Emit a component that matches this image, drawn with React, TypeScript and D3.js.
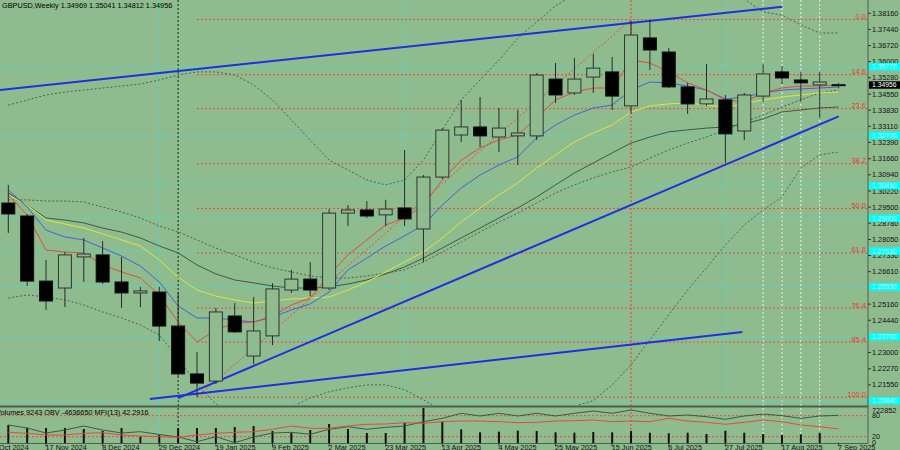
import React from 'react';
import * as d3 from 'd3';

// ---------- data ----------
const openP = [1.2968,1.2910,1.2619,1.2588,1.2727,1.2736,1.2615,1.2566,1.2570,1.2418,1.2204,1.2172,1.2463,1.2284,1.2374,1.2579,1.2628,1.2588,1.2923,1.2937,1.2915,1.2946,1.2852,1.3084,1.3272,1.3308,1.3263,1.3268,1.3268,1.3522,1.3460,1.3531,1.3554,1.3402,1.3706,1.3643,1.3487,1.3411,1.3429,1.3290,1.3446,1.3554,1.3518,1.3496,1.34969];
const highP = [1.3049,1.2919,1.2713,1.2749,1.2812,1.2798,1.2727,1.2593,1.2593,1.2570,1.2302,1.2499,1.2521,1.2548,1.2610,1.2669,1.2704,1.2941,1.2959,1.2977,1.2982,1.3205,1.3093,1.3303,1.3428,1.3442,1.3393,1.3384,1.3549,1.3594,1.3616,1.3634,1.3621,1.3782,1.3788,1.3661,1.3505,1.3589,1.3451,1.3460,1.3589,1.3580,1.3554,1.3554,1.35041];
const lowP = [1.2834,1.2597,1.2490,1.2503,1.2615,1.2606,1.2499,1.2503,1.2351,1.2195,1.2101,1.2159,1.2387,1.2248,1.2333,1.2566,1.2552,1.2579,1.2865,1.2901,1.2865,1.2865,1.2704,1.3075,1.3241,1.3218,1.3196,1.3138,1.3250,1.3415,1.3451,1.3460,1.3384,1.3366,1.3563,1.3482,1.3366,1.3402,1.3147,1.3250,1.3420,1.3500,1.3420,1.3348,1.34812];
const closeP = [1.2919,1.2619,1.2530,1.2736,1.2740,1.2615,1.2566,1.2575,1.2418,1.2204,1.2163,1.2481,1.2392,1.2396,1.2584,1.2628,1.2579,1.2923,1.2937,1.2910,1.2941,1.2897,1.3084,1.3294,1.3308,1.3268,1.3303,1.3281,1.3540,1.3451,1.3522,1.3571,1.3446,1.3719,1.3652,1.3487,1.3411,1.3433,1.3277,1.3451,1.3545,1.3527,1.3505,1.3509,1.34956];

const maRed = [1.3005,1.2914,1.2758,1.2749,1.2745,1.2691,1.2660,1.2633,1.2557,1.2436,1.2347,1.2400,1.2432,1.2436,1.2463,1.2512,1.2543,1.2646,1.2736,1.2803,1.2870,1.2901,1.2959,1.3071,1.3160,1.3214,1.3250,1.3272,1.3348,1.3429,1.3464,1.3482,1.3482,1.3607,1.3594,1.3554,1.3505,1.3473,1.3429,1.3420,1.3460,1.3482,1.3491,1.3491,1.3496];
const maBlue = [1.3026,1.2950,1.2847,1.2816,1.2803,1.2767,1.2731,1.2686,1.2615,1.2508,1.2454,1.2454,1.2445,1.2436,1.2458,1.2490,1.2517,1.2570,1.2669,1.2722,1.2776,1.2821,1.2870,1.2959,1.3035,1.3093,1.3138,1.3174,1.3259,1.3317,1.3361,1.3393,1.3406,1.3473,1.3509,1.3505,1.3491,1.3473,1.3433,1.3442,1.3460,1.3473,1.3478,1.3482,1.3487];
const maYellow = [1.3004,1.2959,1.2892,1.2874,1.2856,1.2830,1.2803,1.2776,1.2713,1.2637,1.2579,1.2552,1.2535,1.2521,1.2530,1.2539,1.2543,1.2548,1.2579,1.2615,1.2660,1.2704,1.2749,1.2812,1.2883,1.2946,1.3004,1.3058,1.3125,1.3183,1.3241,1.3281,1.3317,1.3375,1.3402,1.3411,1.3415,1.3406,1.3397,1.3411,1.3429,1.3442,1.3451,1.3460,1.3464];
const maGray = [1.3013,1.2959,1.2901,1.2892,1.2879,1.2856,1.2838,1.2812,1.2776,1.2745,1.2691,1.2651,1.2624,1.2611,1.2597,1.2588,1.2588,1.2593,1.2606,1.2624,1.2651,1.2682,1.2722,1.2767,1.2812,1.2856,1.2901,1.2946,1.2995,1.3049,1.3102,1.3147,1.3192,1.3236,1.3263,1.3286,1.3295,1.3303,1.3308,1.3321,1.3344,1.3375,1.3384,1.3393,1.3397];
const bbUpper = [1.3406,1.3428,1.3451,1.3464,1.3473,1.3482,1.3491,1.3500,1.3518,1.3540,1.3554,1.3554,1.3540,1.3496,1.3429,1.3339,1.3250,1.3160,1.3116,1.3071,1.3049,1.3071,1.3160,1.3294,1.3429,1.3518,1.3607,1.3705,1.3777,1.3850,1.3900,1.3950,1.3990,1.4000,1.4000,1.3980,1.3950,1.3920,1.3900,1.3880,1.3822,1.3808,1.3764,1.3728,1.3728];
const bbMid = [1.2982,1.2982,1.2977,1.2977,1.2973,1.2950,1.2928,1.2901,1.2865,1.2839,1.2803,1.2767,1.2736,1.2704,1.2678,1.2660,1.2642,1.2633,1.2633,1.2642,1.2655,1.2669,1.2704,1.2749,1.2794,1.2839,1.2883,1.2923,1.2968,1.3013,1.3049,1.3080,1.3107,1.3129,1.3169,1.3205,1.3236,1.3263,1.3294,1.3330,1.3361,1.3397,1.3429,1.3460,1.3473];
const bbLower = [1.2543,1.2557,1.2548,1.2535,1.2512,1.2481,1.2454,1.2423,1.2378,1.2275,1.2155,1.2070,1.2000,1.1990,1.2000,1.2055,1.2097,1.2124,1.2142,1.2155,1.2155,1.2133,1.2088,1.2040,1.2000,1.1960,1.1940,1.1950,1.1980,1.2020,1.2060,1.2084,1.2155,1.2245,1.2356,1.2468,1.2579,1.2678,1.2781,1.2870,1.2937,1.2995,1.3125,1.3183,1.3196];

const volume = [375000,319000,313000,313000,293000,252000,313000,135000,170000,313000,313000,313000,334000,354000,252000,217000,272000,395000,293000,211000,211000,416000,722852,442000,287000,225000,238000,258000,252000,225000,217000,231000,225000,252000,217000,205000,217000,190000,258000,217000,190000,170000,184000,217000,9243];
const obv = [-6.29,-6.81,-7.67,-7.15,-6.47,-7.15,-7.67,-7.44,-7.92,-8.35,-9.16,-8.30,-9.33,-8.35,-7.67,-7.55,-7.89,-7.03,-6.59,-7.03,-6.69,-6.47,-5.73,-5.15,-4.29,-4.75,-4.29,-4.75,-4.29,-4.75,-4.29,-3.89,-4.29,-3.72,-4.29,-4.75,-4.58,-4.87,-5.32,-4.75,-4.41,-4.70,-5.15,-4.75,-4.64];
const mfi = [32.6,29.7,24.9,24.9,29.7,31.4,24.9,22.0,20.0,18.3,24.9,29.7,32.6,34.3,41.1,50.6,44.0,44.0,50.6,55.4,56.3,60.0,58.3,62.9,64.9,64.9,62.9,60.0,61.1,64.9,65.7,67.7,62.9,64.9,62.9,72.6,64.9,61.1,55.4,61.1,67.7,62.9,53.4,48.6,42.3];

const priceTicks = ['1.38160','1.37440','1.36720','1.36000','1.35280','1.34550','1.33830','1.33110','1.32390','1.31660','1.30940','1.30220','1.29500','1.28780','1.28050','1.27330','1.26610','1.25160','1.24440','1.23000','1.22270','1.21550'];
const dateIdx = [-1,2,5,8,11,14,17,20,23,26,29,32,35,38,41,44];
const dateText = ['27 Oct 2024','17 Nov 2024','8 Dec 2024','29 Dec 2024','19 Jan 2025','9 Feb 2025','2 Mar 2025','23 Mar 2025','13 Apr 2025','4 May 2025','25 May 2025','15 Jun 2025','6 Jul 2025','27 Jul 2025','17 Aug 2025','7 Sep 2025'];

const fibLevels = [0, 14.6, 23.6, 38.2, 50, 61.8, 76.4, 85.4, 100];
const fibHighPrice = 1.3788, fibLowPrice = 1.2100, fibLowIdx = 10, fibHighIdx = 33;
const cyanLevels = [1.3577, 1.3270, 1.3045, 1.2900, 1.2753, 1.2593, 1.2370, 1.2084];
const vCyan = [8, 21, 38];
const vRed = [33];
const vBlack = [9];
const vWhite = [40, 41, 42, 43];
const trendLines = [
  { i1: -1, p1: 1.3468, i2: 41, p2: 1.3845 },
  { i1: 9, p1: 1.2096, i2: 44, p2: 1.3355 },
  { i1: 7.5, p1: 1.2092, i2: 38.9, p2: 1.2391 },
];
const header = 'GBPUSD,Weekly  1.34969 1.35041 1.34812 1.34956';
const indLabel = 'Volumes 9243  OBV -4636650  MFI(13) 42.2916';

// ---------- layout ----------
const PLOT_R = 868;
const P_TOP = 0, P_BOT = 405;
const I_TOP = 408, I_BOT = 443.5;
const BG = '#8fbc8f';
const FONT = '"Liberation Sans", Arial, sans-serif';

export default function App() {
  const n = closeP.length;
  const x = d3.scaleLinear().domain([0, 44]).range([8.3, 838.6]);
  const y = d3.scaleLinear().domain([1.20651, 1.38755]).range([P_BOT, P_TOP]);
  const yVol = d3.scaleLinear().domain([0, 722852]).range([443.3, 408]);
  const yMfi = d3.scaleLinear().domain([0, 100]).range([443.7, 408.7]);
  const yObv = d3.scaleLinear().domain([-9.5, -3.5]).range([443.7, 408.7]);
  const idx = d3.range(n);

  const mkLine = (arr: (number | null)[]) =>
    d3.line<number>().defined((i) => arr[i] != null).x((i) => x(i)).y((i) => y(arr[i] as number))(idx) || '';
  const mkInd = (arr: number[], sc: d3.ScaleLinear<number, number>) =>
    d3.line<number>().x((i) => x(i)).y((i) => sc(arr[i]))(idx) || '';

  const fibY = (lv: number) => y(fibHighPrice - (fibHighPrice - fibLowPrice) * lv / 100);
  const halfW = 6.5;
  const boxH = 7.5;

  return (
    <svg width={900} height={450} style={{ display: 'block', position: 'absolute', left: 0, top: 0 }}>
      <defs>
        <clipPath id="pclip"><rect x={0} y={P_TOP} width={PLOT_R} height={P_BOT - P_TOP} /></clipPath>
        <clipPath id="iclip"><rect x={0} y={I_TOP} width={PLOT_R} height={I_BOT - I_TOP} /></clipPath>
      </defs>
      <rect x={0} y={0} width={900} height={450} fill={BG} />

      {vBlack.map((i) => <line key={'vb' + i} x1={x(i)} x2={x(i)} y1={0} y2={I_BOT} stroke="#222" strokeDasharray="2,2" strokeWidth={1} />)}
      {vCyan.map((i) => <line key={'vc' + i} x1={x(i)} x2={x(i)} y1={0} y2={I_BOT} stroke="#40e0d0" strokeDasharray="2,2" strokeWidth={1} />)}
      {vRed.map((i) => <line key={'vr' + i} x1={x(i)} x2={x(i)} y1={0} y2={I_BOT} stroke="#ff3030" strokeDasharray="2,2" strokeWidth={1} />)}
      {vWhite.map((i) => <line key={'vw' + i} x1={x(i)} x2={x(i)} y1={0} y2={I_BOT} stroke="#f0f0f0" strokeDasharray="2,2" strokeWidth={1} />)}

      <g clipPath="url(#pclip)">
        {cyanLevels.map((p, k) => <line key={'ch' + k} x1={0} x2={PLOT_R} y1={y(p)} y2={y(p)} stroke="#40e0d0" strokeDasharray="2,2" strokeWidth={1} />)}
        {fibLevels.map((lv) => <line key={'fl' + lv} x1={x(fibLowIdx)} x2={PLOT_R} y1={fibY(lv)} y2={fibY(lv)} stroke="#e84a3c" strokeDasharray="2,2" strokeWidth={1} />)}
        <line x1={x(fibLowIdx)} y1={y(fibLowPrice)} x2={x(fibHighIdx)} y2={y(fibHighPrice)} stroke="#e84a3c" strokeDasharray="2,2" strokeWidth={1} />
        {[bbUpper, bbMid, bbLower].map((arr, k) => <path key={'bb' + k} d={mkLine(arr)} fill="none" stroke="#4d624d" strokeDasharray="2,2" strokeWidth={1} />)}
        <path d={mkLine(maGray)} fill="none" stroke="#3e5a44" strokeWidth={1} />
        <path d={mkLine(maYellow)} fill="none" stroke="#e4e43c" strokeWidth={1} />
        <path d={mkLine(maBlue)} fill="none" stroke="#3e63dd" strokeWidth={1} />
        <path d={mkLine(maRed)} fill="none" stroke="#e8483a" strokeWidth={1} />
        {trendLines.map((t, k) => <line key={'tl' + k} x1={x(t.i1)} y1={y(t.p1)} x2={x(t.i2)} y2={y(t.p2)} stroke="#1f2fe0" strokeWidth={2} />)}
        {idx.map((i) => {
          const o = openP[i], c = closeP[i];
          const bull = c >= o;
          const top = y(Math.max(o, c)), bot = y(Math.min(o, c));
          return (
            <g key={'c' + i}>
              <line x1={x(i)} x2={x(i)} y1={y(highP[i])} y2={y(lowP[i])} stroke="#2a2a2a" strokeWidth={1} />
              <rect x={x(i) - halfW} y={top} width={halfW * 2} height={Math.max(1, bot - top)} fill={bull ? BG : '#000'} stroke={bull ? '#333' : '#111'} strokeWidth={1} />
            </g>
          );
        })}
      </g>

      {fibLevels.map((lv) => <text key={'ft' + lv} x={866} y={fibY(lv) - 0.5} textAnchor="end" fontFamily={FONT} fontSize={7.5} fill="#e83a2e">{lv.toFixed(1)}</text>)}

      <text x={2} y={8} fontFamily={FONT} fontSize={7.3} fill="#000">{header}</text>

      <line x1={0} x2={PLOT_R} y1={406.5} y2={406.5} stroke="#4f5f4f" strokeWidth={2} />
      <line x1={0} x2={PLOT_R} y1={I_BOT} y2={I_BOT} stroke="#4f5f4f" strokeWidth={1} />
      <line x1={PLOT_R} x2={PLOT_R} y1={0} y2={I_BOT} stroke="#4f5f4f" strokeWidth={1} />

      <g clipPath="url(#iclip)">
        <line x1={0} x2={PLOT_R} y1={yMfi(80)} y2={yMfi(80)} stroke="#e84a3c" strokeDasharray="2,2" />
        <line x1={0} x2={PLOT_R} y1={yMfi(20)} y2={yMfi(20)} stroke="#e84a3c" strokeDasharray="2,2" />
        {idx.map((i) => <rect key={'v' + i} x={x(i) - 1} y={yVol(volume[i])} width={2} height={yVol(0) - yVol(volume[i])} fill="#111" />)}
        <path d={mkInd(obv, yObv)} fill="none" stroke="#3e5a44" strokeWidth={1} />
        <path d={mkInd(mfi, yMfi)} fill="none" stroke="#e8483a" strokeWidth={1} />
      </g>
      <text x={-4} y={414.5} fontFamily={FONT} fontSize={7.3} fill="#000">{indLabel}</text>

      {priceTicks.map((t) => {
        const yy = y(parseFloat(t));
        return (
          <g key={'pt' + t}>
            <line x1={PLOT_R} x2={PLOT_R + 3} y1={yy} y2={yy} stroke="#333" />
            <text x={872} y={yy + 2.6} fontFamily={FONT} fontSize={7.3} fill="#111">{t}</text>
          </g>
        );
      })}
      {cyanLevels.map((p, k) => (
        <g key={'cl' + k}>
          <rect x={869} y={y(p) - boxH / 2} width={31} height={boxH} fill="#00ffff" />
          <text x={872} y={y(p) + 2.4} fontFamily={FONT} fontSize={6.8} fill="#c8ffff">{p.toFixed(5)}</text>
        </g>
      ))}
      <rect x={869} y={y(closeP[n - 1]) - boxH / 2} width={31} height={boxH} fill="#000" />
      <text x={872} y={y(closeP[n - 1]) + 2.4} fontFamily={FONT} fontSize={6.8} fill="#fff">{closeP[n - 1].toFixed(5)}</text>

      <text x={872} y={412.5} fontFamily={FONT} fontSize={7.3} fill="#111">722852</text>
      <text x={872} y={yMfi(80) + 2.6} fontFamily={FONT} fontSize={7.3} fill="#111">80</text>
      <text x={872} y={yMfi(20) + 2.2} fontFamily={FONT} fontSize={7.3} fill="#111">20</text>
      <text x={872} y={444.5} fontFamily={FONT} fontSize={7.3} fill="#111">0</text>

      {dateIdx.map((i, k) => (
        <g key={'d' + k}>
          <line x1={x(i)} x2={x(i)} y1={I_BOT} y2={I_BOT + 3} stroke="#333" />
          <text x={x(i) - 0.5} y={449.5} fontFamily={FONT} fontSize={7.3} fill="#111">{dateText[k]}</text>
        </g>
      ))}
    </svg>
  );
}
